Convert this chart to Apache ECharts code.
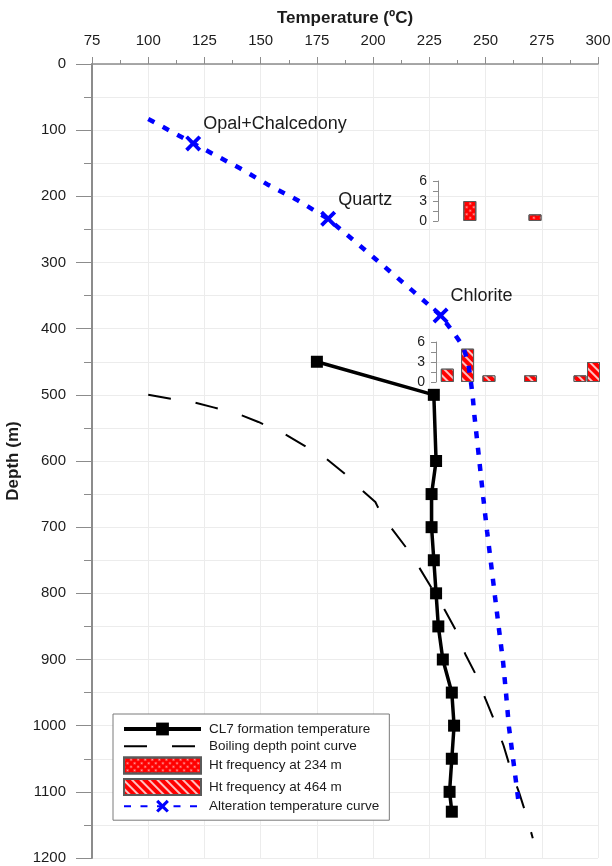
<!DOCTYPE html>
<html>
<head>
<meta charset="utf-8">
<script src="https://cdn.jsdelivr.net/npm/echarts@6/dist/echarts.min.js"></script>
<style>
  html, body { margin: 0; padding: 0; background: #fff; }
  #chart { width: 612px; height: 866px; }
</style>
</head>
<body>
<div id="chart"></div>
<script>
const FONT = '"Liberation Sans", Arial, Helvetica, sans-serif';

// Axis ranges and tick steps
const tempRange = [75, 300];
const tempStep = 25;
const depthRange = [0, 1200];
const depthStep = 100;
const freqRange = [0, 6];
const freqStep = 3;

// CL7 well: measured formation temperature [°C, depth m]
const cl7Temp = [
  [175, 450], [227, 500], [228, 600], [226, 650], [226, 700], [227, 750],
  [228, 800], [229, 850], [231, 900], [235, 950], [236, 1000], [235, 1050],
  [234, 1100], [235, 1130]
];

// Boiling point for depth curve [°C, depth m]
const boilingCurve = [
  [100, 500], [110, 506], [119, 510], [129, 519], [140, 529], [149, 541],
  [160, 558], [169, 576], [179, 596], [187, 618], [195, 644], [201, 662],
  [202, 669], [208, 701], [214.5, 730], [220.5, 761], [226, 792], [232, 826],
  [237, 857], [241, 892], [246, 925], [250, 960], [254, 993], [258, 1030],
  [261, 1064], [265, 1102], [268, 1134], [271, 1170]
];

// Alteration mineral temperature curve [°C, depth m]
const alterationCurve = [
  [100, 83], [120, 120], [141, 158], [153, 182], [166, 205], [180, 234],
  [196, 280], [207, 312], [218, 344], [230, 380], [236, 407], [240, 427],
  [242.3, 452], [243.4, 478], [244.3, 503], [245, 530], [246.7, 583],
  [249, 656], [250.7, 707], [252.4, 754], [254.2, 805], [256, 855],
  [257.8, 904], [259.1, 951], [260.4, 1002], [262.2, 1049], [264, 1097],
  [265, 1124]
];

// Geothermometer minerals marked on the alteration curve
const mineralNames = ['Opal+Chalcedony', 'Quartz', 'Chlorite'];
const mineralPoints = [[120, 120], [180, 234], [230, 380]];

// Homogenisation temperature frequency of fluid inclusions [°C, count]
const ht234 = [[243, 3], [272, 1]];
const ht464 = [[233, 2], [242, 5], [251.5, 1], [270, 1], [292, 1], [298, 3]];

const seriesNames = [
  'CL7 formation temperature',
  'Boiling depth point curve',
  'Ht frequency at 234 m',
  'Ht frequency at 464 m',
  'Alteration temperature curve'
];

const AXIS_GRAY = '#8c8c8c';
const GRID_GRAY = '#ececec';
const TEXT = '#1c1c1c';
const BLUE = '#0000ff';
const RED = '#ff0000';

// Thick "X" marker drawn as a filled outline
const X_SYMBOL = 'path://M0,1.7L1.7,0L5,3.3L8.3,0L10,1.7L6.7,5L10,8.3L8.3,10L5,6.7L1.7,10L0,8.3L3.3,5Z';

const alterationData = alterationCurve.map(function (p) {
  const k = mineralPoints.findIndex(function (m) { return m[0] === p[0] && m[1] === p[1]; });
  if (k < 0) return { value: p, symbol: 'none' };
  return {
    value: p,
    label: {
      show: true,
      formatter: mineralNames[k],
      position: 'inside',
      align: 'left',
      verticalAlign: 'middle',
      offset: [10, -19],
      fontFamily: FONT,
      fontSize: 18,
      color: TEXT
    }
  };
});

function plainNumber(v) { return String(v); }

function insetYAxis(gridIndex, offset) {
  return {
    gridIndex: gridIndex,
    type: 'value',
    min: freqRange[0],
    max: freqRange[1],
    interval: freqStep,
    offset: offset,
    axisLine: { show: true, lineStyle: { color: AXIS_GRAY, width: 1 } },
    axisTick: { show: true, length: 5, lineStyle: { color: AXIS_GRAY } },
    minorTick: { show: true, splitNumber: 2, length: 5, lineStyle: { color: AXIS_GRAY } },
    splitLine: { show: false },
    axisLabel: { fontFamily: FONT, fontSize: 14, color: TEXT, margin: 11, formatter: plainNumber }
  };
}

function insetXAxis(gridIndex) {
  return { gridIndex: gridIndex, type: 'value', min: tempRange[0], max: tempRange[1], show: false };
}

const hatch464 = {
  symbol: 'rect',
  dashArrayX: [1, 0],
  dashArrayY: [1.2, 3.4],
  rotation: Math.PI / 4,
  color: 'rgba(255,255,255,0.75)'
};
const dots234 = {
  symbol: 'circle',
  symbolSize: 0.7,
  dashArrayX: [[3, 2]],
  dashArrayY: [3, 2],
  rotation: Math.PI / 4,
  color: 'rgba(255,255,255,0.7)'
};

const gridBase = { outerBoundsMode: 'none', containLabel: false };

const chart = echarts.init(document.getElementById('chart'), null, { renderer: 'canvas' });

chart.setOption({
  animation: false,
  backgroundColor: '#fff',
  textStyle: { fontFamily: FONT },
  grid: [
    Object.assign({ left: 92, right: 14, top: 64, bottom: 8 }, gridBase),
    Object.assign({ left: 92, right: 14, top: 181, height: 40 }, gridBase),
    Object.assign({ left: 92, right: 14, top: 342, height: 40 }, gridBase)
  ],
  xAxis: [
    {
      gridIndex: 0,
      type: 'value',
      position: 'top',
      min: tempRange[0],
      max: tempRange[1],
      interval: tempStep,
      name: 'Temperature (ºC)',
      nameLocation: 'middle',
      nameGap: 37,
      nameTextStyle: { fontFamily: FONT, fontSize: 17, fontWeight: 'bold', color: TEXT },
      axisLine: { show: true, lineStyle: { color: AXIS_GRAY, width: 1.5 } },
      axisTick: { show: true, length: 7, lineStyle: { color: AXIS_GRAY } },
      minorTick: { show: true, splitNumber: 2, length: 4, lineStyle: { color: AXIS_GRAY } },
      axisLabel: { fontFamily: FONT, fontSize: 15, color: TEXT, margin: 16, formatter: plainNumber },
      splitLine: { show: true, lineStyle: { color: GRID_GRAY, width: 1 } }
    },
    insetXAxis(1),
    insetXAxis(2)
  ],
  yAxis: [
    {
      gridIndex: 0,
      type: 'value',
      inverse: true,
      min: depthRange[0],
      max: depthRange[1],
      interval: depthStep,
      name: 'Depth (m)',
      nameLocation: 'middle',
      nameGap: 68,
      nameTextStyle: { fontFamily: FONT, fontSize: 17, fontWeight: 'bold', color: TEXT },
      axisLine: { show: true, lineStyle: { color: AXIS_GRAY, width: 2 } },
      axisTick: { show: true, length: 16, lineStyle: { color: AXIS_GRAY } },
      minorTick: { show: true, splitNumber: 2, length: 8, lineStyle: { color: AXIS_GRAY } },
      axisLabel: { fontFamily: FONT, fontSize: 15, color: TEXT, margin: 26, formatter: plainNumber },
      splitLine: { show: true, lineStyle: { color: GRID_GRAY, width: 1 } },
      minorSplitLine: { show: true, lineStyle: { color: GRID_GRAY, width: 1 } }
    },
    insetYAxis(1, -346),
    insetYAxis(2, -344)
  ],
  legend: {
    orient: 'vertical',
    left: 113,
    top: 714,
    padding: [8, 10, 7, 9],
    itemGap: 3.3,
    itemWidth: 77,
    itemHeight: 16,
    backgroundColor: '#fff',
    borderColor: '#7a7a7a',
    borderWidth: 1,
    borderRadius: 0,
    textStyle: { fontFamily: FONT, fontSize: 13.5, color: TEXT, padding: [0, 0, 0, 3] },
    data: [
      { name: seriesNames[0], lineStyle: { width: 4 } },
      { name: seriesNames[1] },
      { name: seriesNames[2], icon: 'rect' },
      { name: seriesNames[3], icon: 'rect' },
      { name: seriesNames[4] }
    ]
  },
  series: [
    {
      name: seriesNames[0],
      type: 'line',
      xAxisIndex: 0,
      yAxisIndex: 0,
      data: cl7Temp,
      symbol: 'rect',
      symbolSize: 12,
      lineStyle: { color: '#000', width: 3.5 },
      itemStyle: { color: '#000' },
      z: 5
    },
    {
      name: seriesNames[1],
      type: 'line',
      xAxisIndex: 0,
      yAxisIndex: 0,
      data: boilingCurve,
      symbol: 'none',
      lineStyle: { color: '#000', width: 2, type: [23, 25] },
      itemStyle: { color: 'rgba(0,0,0,0)' },
      z: 4
    },
    {
      name: seriesNames[2],
      type: 'bar',
      xAxisIndex: 1,
      yAxisIndex: 1,
      data: ht234,
      barWidth: 13,
      clip: false,
      itemStyle: { color: RED, borderColor: '#5a5a5a', borderWidth: 1, decal: dots234 },
      z: 3
    },
    {
      name: seriesNames[3],
      type: 'bar',
      xAxisIndex: 2,
      yAxisIndex: 2,
      data: ht464,
      barWidth: 13,
      clip: false,
      itemStyle: { color: RED, borderColor: '#5a5a5a', borderWidth: 1, decal: hatch464 },
      z: 3
    },
    {
      name: seriesNames[4],
      type: 'line',
      xAxisIndex: 0,
      yAxisIndex: 0,
      data: alterationData,
      symbol: X_SYMBOL,
      symbolSize: 16,
      lineStyle: { color: BLUE, width: 4.5, type: [7, 9.5] },
      itemStyle: { color: BLUE },
      z: 6
    }
  ]
});
</script>
</body>
</html>
